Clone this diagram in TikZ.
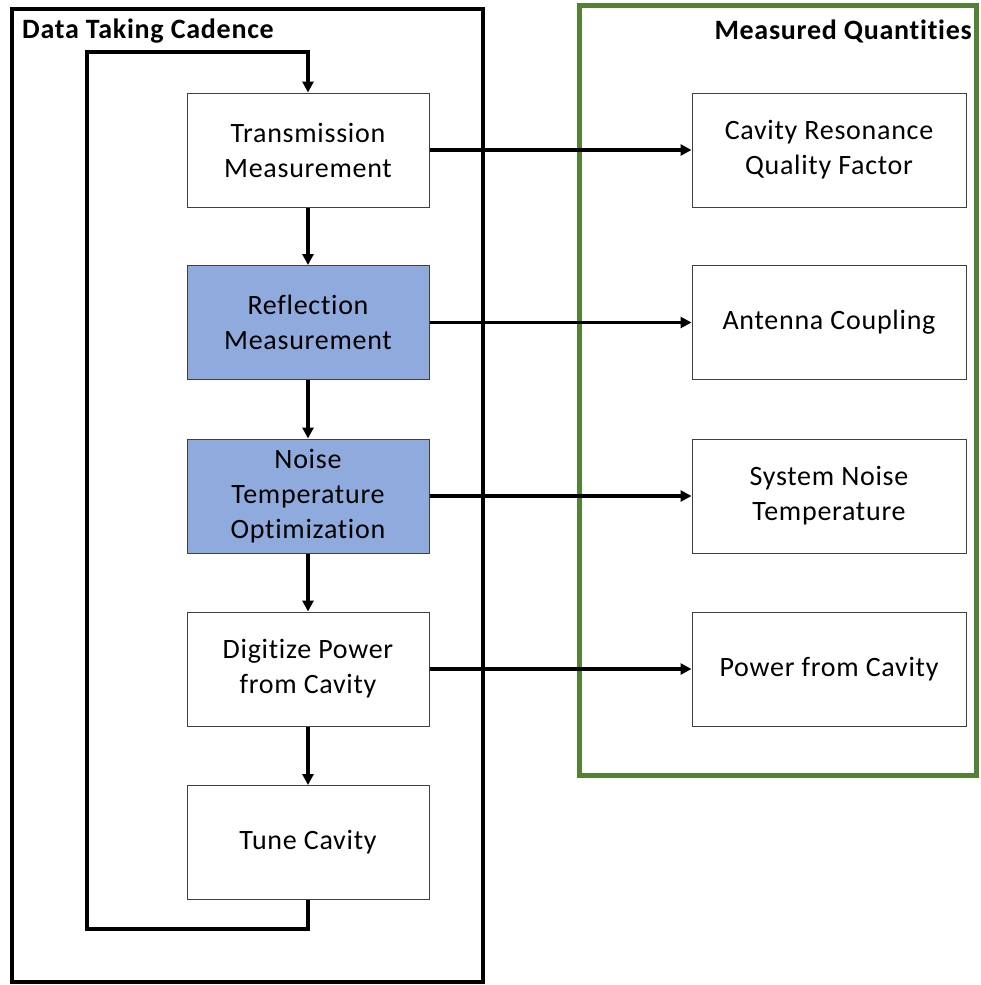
\documentclass[tikz,border=0pt]{standalone}
\usepackage{fontspec}
\setmainfont{Carlito}
\newfontfamily\boxfont[LetterSpace=2.6, Ligatures=NoCommon]{Carlito}
\usetikzlibrary{arrows.meta}
\definecolor{stepblue}{HTML}{8FAADC}
\definecolor{framegreen}{HTML}{548235}
\definecolor{boxedge}{HTML}{404040}
\tikzset{
  stepbox/.style={draw=boxedge, line width=1pt, fill=white, minimum width=242pt,
    minimum height=114pt, align=center, inner sep=0pt,
    font=\boxfont\fontsize{28}{35}\selectfont},
  qtybox/.style={stepbox, minimum width=274pt},
  hot/.style={fill=stepblue},
  flow/.style={line width=3.2pt, -{Triangle[length=11pt,width=11pt]}},
  title/.style={font=\boxfont\bfseries\fontsize{28}{30}\selectfont, inner sep=0pt}
}
\begin{document}
\begin{tikzpicture}[x=1pt, y=-1pt]
\useasboundingbox (0,0) rectangle (980,985);
\fill[white] (0,0) rectangle (980,985);

% frames
\draw[line width=4.5pt] (12,9) rectangle (483,982);
\draw[framegreen, line width=5pt] (579.5,5.5) rectangle (976,775);

\node[title, anchor=west] (tl) at (22,31) {Data Taking Cadence};
\node[title, anchor=east] (tr) at (972,31) {Measured Quantities};

% steps of the cadence
\node[stepbox] (s1) at (308,150) {Transmission\\Measurement};
\node[stepbox, hot] (s2) at (308,322.5) {Reflection\\Measurement};
\node[stepbox, hot] (s3) at (308,496) {Noise\\Temperature\\Optimization};
\node[stepbox] (s4) at (308,669) {Digitize Power\\from Cavity};
\node[stepbox] (s5) at (308,842.5) {Tune Cavity};

% quantities
\node[qtybox] (q1) at (829,150) {Cavity Resonance\\Quality Factor};
\node[qtybox] (q2) at (829,322.5) {Antenna Coupling};
\node[qtybox] (q3) at (829,496) {System Noise\\Temperature};
\node[qtybox] (q4) at (829,669) {Power from Cavity};

% loop back
\coordinate (lb) at (308,929);
\coordinate (ll) at (87,929);
\coordinate (lt) at (87,52);
\coordinate (lr) at (308,52);
\draw[flow] (s5.south) -- (lb) -- (ll) -- (lt) -- (lr) -- (s1.north);

\draw[flow] (s1) -- (s2);
\draw[flow] (s2) -- (s3);
\draw[flow] (s3) -- (s4);
\draw[flow] (s4) -- (s5);

\draw[flow] (s1) -- (q1);
\draw[flow] (s2) -- (q2);
\draw[flow] (s3) -- (q3);
\draw[flow] (s4) -- (q4);
\end{tikzpicture}
\end{document}
